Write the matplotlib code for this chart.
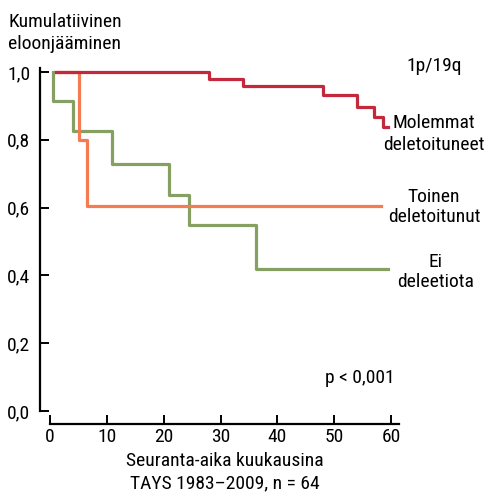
import matplotlib
matplotlib.use("Agg")
import matplotlib.pyplot as plt

plt.rcParams['font.family'] = ['Roboto Condensed', 'Barlow Semi Condensed', 'DejaVu Sans']
plt.rcParams['font.stretch'] = 'condensed'

# Kaplan-Meier curves (months, cumulative survival)
red_t = [1, 28, 34, 48, 54, 57, 58.5, 59.5]
red_s = [1.0, 0.979, 0.958, 0.932, 0.897, 0.867, 0.838, 0.838]

orange_t = [1, 5.1, 6.5, 58.3]
orange_s = [1.0, 0.8, 0.605, 0.605]

green_t = [0.5, 0.5, 4.1, 10.9, 21, 24.5, 36.2, 59.5]
green_s = [1.0, 0.914, 0.826, 0.729, 0.637, 0.549, 0.419, 0.419]

xticks = [0, 10, 20, 30, 40, 50, 60]
yticks = [0.0, 0.2, 0.4, 0.6, 0.8, 1.0]
ytick_labels = ["0,0", "0,2", "0,4", "0,6", "0,8", "1,0"]

FS = 14

fig = plt.figure(figsize=(4.85, 4.94), dpi=100)
ax = fig.add_axes([50 / 485, 1 - 411 / 494, 349 / 485, 343 / 494])

ax.step(green_t, green_s, where="post", color="#86a063", lw=2.3)
ax.step(orange_t, orange_s, where="post", color="#f47c50", lw=2.3)
ax.step(red_t, red_s, where="post", color="#c4283c", lw=2.3)

ax.set_xlim(0, 61.4)
ax.set_ylim(0, 1.012)

for s in ["top", "right"]:
    ax.spines[s].set_visible(False)
ax.spines["left"].set_position(("outward", 7.2))
ax.spines["bottom"].set_position(("outward", 9.5))
ax.spines["left"].set_linewidth(1.6)
ax.spines["bottom"].set_linewidth(1.6)
ax.spines["left"].set_bounds(0, 1.012)
ax.spines["bottom"].set_bounds(0, 61.4)

ax.set_xticks(xticks)
ax.set_xticklabels([str(v) for v in xticks], fontsize=FS)
ax.set_yticks(yticks)
ax.set_yticklabels(ytick_labels, fontsize=FS)
ax.tick_params(axis="both", direction="in", length=6.5, width=1.4, pad=3)
ax.tick_params(axis="y", pad=7)

ax.set_xlabel("Seuranta-aika kuukausina\nTAYS 1983\u20132009, n = 64",
              fontsize=FS, linespacing=1.3, labelpad=4)

fig.text(8 / 485, 1 - 33 / 494, "Kumulatiivinen\neloonjääminen",
         fontsize=FS, va="center", ha="left", linespacing=1.35)

fig.text(434 / 485, 1 - 66 / 494, "1p/19q", fontsize=FS, ha="center", va="center")
fig.text(434 / 485, 1 - 134 / 494, "Molemmat\ndeletoituneet", fontsize=FS,
         ha="center", va="center", linespacing=1.25)
fig.text(434 / 485, 1 - 207 / 494, "Toinen\ndeletoitunut", fontsize=FS,
         ha="center", va="center", linespacing=1.2)
fig.text(436 / 485, 1 - 272 / 494, "Ei\ndeleetiota", fontsize=FS,
         ha="center", va="center", linespacing=1.2)
fig.text(360 / 485, 1 - 378 / 494, "p < 0,001", fontsize=FS, ha="center", va="center")

fig.savefig("out.png", dpi=100)
